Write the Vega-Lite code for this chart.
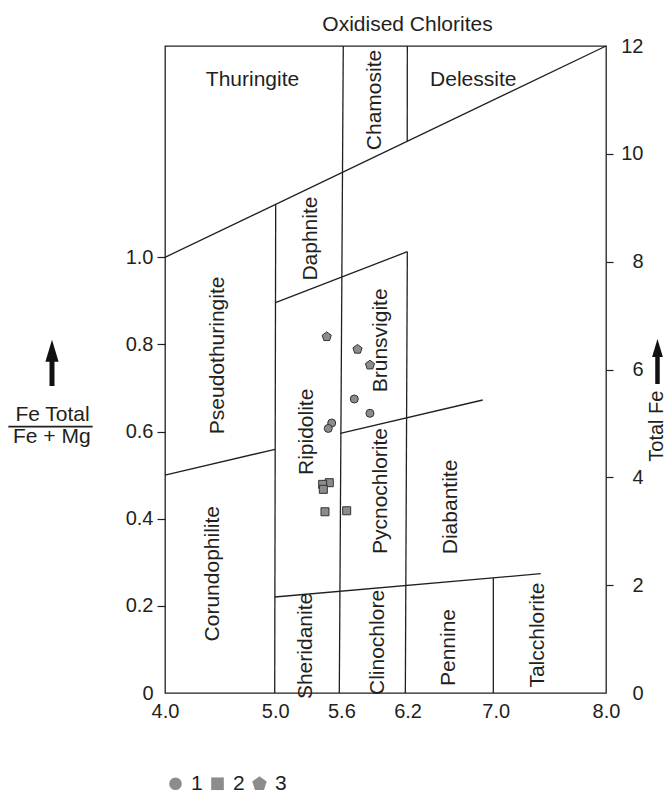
{
  "$schema": "https://vega.github.io/schema/vega-lite/v6.json",
  "width": 441,
  "height": 647,
  "autosize": {"type": "none"},
  "padding": {"left": 165, "top": 46, "right": 61, "bottom": 102},
  "title": {"text": "Oxidised Chlorites", "frame": "group", "anchor": "middle", "dx": 22, "fontSize": 21, "fontWeight": "normal", "color": "#231f20", "baseline": "alphabetic", "offset": -16},
  "config": {
    "font": "Liberation Sans",
    "view": {"stroke": "#231f20", "strokeWidth": 1.3},
    "legend": {"labelFontSize": 21, "labelColor": "#231f20", "symbolSize": 160, "symbolFillColor": "#8c8c8c", "symbolStrokeColor": "#333333", "symbolStrokeWidth": 1.2, "labelOffset": 5, "columnPadding": 4, "padding": 0}
  },
  "datasets": {
    "segments": [
      {"x": 4.0, "y": 1.0, "x2": 8.0, "y2": 1.485},
      {"x": 5.004, "y": 1.1217, "x2": 4.995, "y2": 0},
      {"x": 5.617, "y": 1.485, "x2": 5.581, "y2": 0},
      {"x": 6.198, "y": 1.485, "x2": 6.197, "y2": 1.2665},
      {"x": 6.198, "y": 1.0129, "x2": 6.18, "y2": 0},
      {"x": 5.002, "y": 0.8958, "x2": 6.198, "y2": 1.0129},
      {"x": 4.0, "y": 0.5003, "x2": 4.999, "y2": 0.5593},
      {"x": 5.59, "y": 0.596, "x2": 6.882, "y2": 0.6725},
      {"x": 4.996, "y": 0.2203, "x2": 7.408, "y2": 0.2738},
      {"x": 6.978, "y": 0.2643, "x2": 6.978, "y2": 0}
    ],
    "labels_h": [
      {"name": "Thuringite", "x": 4.794, "y": 1.3932},
      {"name": "Delessite", "x": 6.796, "y": 1.3932}
    ],
    "labels_v": [
      {"name": "Chamosite", "x": 5.909, "y": 1.361},
      {"name": "Daphnite", "x": 5.324, "y": 1.043},
      {"name": "Pseudothuringite", "x": 4.483, "y": 0.775},
      {"name": "Ripidolite", "x": 5.285, "y": 0.5995},
      {"name": "Brunsvigite", "x": 5.957, "y": 0.8095},
      {"name": "Pycnochlorite", "x": 5.957, "y": 0.4636},
      {"name": "Diabantite", "x": 6.597, "y": 0.427},
      {"name": "Corundophilite", "x": 4.434, "y": 0.2738},
      {"name": "Sheridanite", "x": 5.282, "y": 0.108},
      {"name": "Clinochlore", "x": 5.93, "y": 0.116},
      {"name": "Pennine", "x": 6.573, "y": 0.1044},
      {"name": "Talcchlorite", "x": 7.379, "y": 0.133}
    ],
    "points": [
      {"type": "1", "si": 5.512, "ratio": 0.6197},
      {"type": "1", "si": 5.481, "ratio": 0.6072},
      {"type": "1", "si": 5.717, "ratio": 0.6748},
      {"type": "1", "si": 5.859, "ratio": 0.642},
      {"type": "2", "si": 5.49, "ratio": 0.4827},
      {"type": "2", "si": 5.43, "ratio": 0.4789},
      {"type": "2", "si": 5.436, "ratio": 0.4674},
      {"type": "2", "si": 5.451, "ratio": 0.416},
      {"type": "2", "si": 5.648, "ratio": 0.4183},
      {"type": "3", "si": 5.467, "ratio": 0.8178},
      {"type": "3", "si": 5.746, "ratio": 0.7889},
      {"type": "3", "si": 5.859, "ratio": 0.7527}
    ],
    "left_title": [
      {"text": "Fe Total", "x": 2.98, "y": 0.625},
      {"text": "Fe + Mg", "x": 2.973, "y": 0.5731}
    ],
    "left_bar": [{"x": 2.579, "x2": 3.344, "y": 0.6112}],
    "left_shaft": [{"x": 2.975, "y": 0.7046, "y2": 0.765}],
    "left_head": [{"x": 2.975, "y": 0.7853}],
    "right_shaft": [{"x": 8.467, "tf": 5.731, "tf2": 6.269}],
    "right_head": [{"x": 8.467, "tf": 6.399}],
    "right_title": [{"text": "Total Fe", "x": 8.466, "tf": 4.95}]
  },
  "layer": [
    {
      "layer": [
        {
          "data": {"name": "segments"},
          "mark": {"type": "rule", "color": "#231f20", "strokeWidth": 1.3},
          "encoding": {
            "x": {"field": "x", "type": "quantitative", "scale": {"domain": [4, 8], "nice": false, "zero": false},
              "axis": {"values": [4, 5, 5.6, 6.2, 7, 8], "format": ".1f", "title": null, "ticks": false, "domain": false, "grid": false, "labelFontSize": 20, "labelColor": "#231f20", "labelPadding": 8, "labelDx": 5, "labelFlush": false, "labelOverlap": false}},
            "y": {"field": "y", "type": "quantitative", "scale": {"domain": [0, 1.485], "nice": false, "zero": false},
              "axis": {"values": [0, 0.2, 0.4, 0.6, 0.8, 1.0], "labelExpr": "datum.value == 0 ? '0' : format(datum.value, '.1f')", "title": null, "domain": false, "grid": false, "tickSize": 8, "tickColor": "#231f20", "tickWidth": 1.2, "tickOpacity": {"condition": {"test": "datum.value == 0", "value": 0}, "value": 1}, "labelFontSize": 20, "labelColor": "#231f20", "labelPadding": 4, "labelFlush": false, "labelOverlap": false}},
            "x2": {"field": "x2"},
            "y2": {"field": "y2"}
          }
        },
        {
          "data": {"name": "labels_h"},
          "mark": {"type": "text", "fontSize": 21, "color": "#231f20", "align": "center", "baseline": "alphabetic"},
          "encoding": {
            "x": {"field": "x", "type": "quantitative"},
            "y": {"field": "y", "type": "quantitative"},
            "text": {"field": "name"}
          }
        },
        {
          "data": {"name": "labels_v"},
          "mark": {"type": "text", "fontSize": 21, "color": "#231f20", "align": "center", "baseline": "middle", "angle": 270},
          "encoding": {
            "x": {"field": "x", "type": "quantitative"},
            "y": {"field": "y", "type": "quantitative"},
            "text": {"field": "name"}
          }
        },
        {
          "data": {"name": "left_title"},
          "mark": {"type": "text", "fontSize": 21, "color": "#231f20", "align": "center", "baseline": "alphabetic"},
          "encoding": {
            "x": {"field": "x", "type": "quantitative"},
            "y": {"field": "y", "type": "quantitative"},
            "text": {"field": "text"}
          }
        },
        {
          "data": {"name": "left_bar"},
          "mark": {"type": "rule", "color": "#231f20", "strokeWidth": 1.8},
          "encoding": {
            "x": {"field": "x", "type": "quantitative"},
            "x2": {"field": "x2"},
            "y": {"field": "y", "type": "quantitative"}
          }
        },
        {
          "data": {"name": "left_shaft"},
          "mark": {"type": "rule", "color": "#111111", "strokeWidth": 5},
          "encoding": {
            "x": {"field": "x", "type": "quantitative"},
            "y": {"field": "y", "type": "quantitative"},
            "y2": {"field": "y2"}
          }
        },
        {
          "data": {"name": "left_head"},
          "mark": {"type": "point", "shape": "M0,-1L0.6,1L-0.6,1Z", "filled": true, "color": "#111111", "opacity": 1, "size": 484},
          "encoding": {
            "x": {"field": "x", "type": "quantitative"},
            "y": {"field": "y", "type": "quantitative"}
          }
        },
        {
          "data": {"name": "points"},
          "transform": [{"filter": "datum.type == 'none'"}],
          "mark": {"type": "point", "filled": true, "fill": "#8c8c8c", "stroke": "#333333", "strokeWidth": 1.2, "opacity": 1, "size": 160},
          "encoding": {
            "x": {"field": "si", "type": "quantitative"},
            "y": {"field": "ratio", "type": "quantitative"},
            "shape": {"field": "type", "type": "nominal",
              "scale": {"domain": ["1", "2", "3"], "range": ["circle", "square", "M0,-1.2L1.14,-0.37L0.71,0.97L-0.71,0.97L-1.14,-0.37Z"]},
              "legend": {"orient": "none", "legendX": 0, "legendY": 727, "direction": "horizontal", "title": null}}
          }
        },
        {
          "data": {"name": "points"},
          "mark": {"type": "point", "filled": true, "fill": "#8c8c8c", "stroke": "#333333", "strokeWidth": 1, "opacity": 1, "size": 64},
          "encoding": {
            "x": {"field": "si", "type": "quantitative"},
            "y": {"field": "ratio", "type": "quantitative"},
            "shape": {"field": "type", "type": "nominal", "legend": null}
          }
        }
      ]
    },
    {
      "layer": [
        {
          "data": {"name": "right_shaft"},
          "mark": {"type": "rule", "color": "#111111", "strokeWidth": 4.5},
          "encoding": {
            "x": {"field": "x", "type": "quantitative"},
            "y": {"field": "tf", "type": "quantitative", "scale": {"domain": [0, 12], "nice": false, "zero": false},
              "axis": {"orient": "right", "values": [0, 2, 4, 6, 8, 10, 12], "format": "d", "title": null, "domain": false, "grid": false, "tickSize": 7, "tickColor": "#231f20", "tickWidth": 1.2, "tickOpacity": {"condition": {"test": "datum.value == 0 || datum.value == 12", "value": 0}, "value": 1}, "labelAlign": "right", "labelPadding": 30, "labelFontSize": 20, "labelColor": "#231f20", "labelFlush": false, "labelOverlap": false}},
            "y2": {"field": "tf2"}
          }
        },
        {
          "data": {"name": "right_head"},
          "mark": {"type": "point", "shape": "M0,-1L0.6,1L-0.6,1Z", "filled": true, "color": "#111111", "opacity": 1, "size": 324},
          "encoding": {
            "x": {"field": "x", "type": "quantitative"},
            "y": {"field": "tf", "type": "quantitative"}
          }
        },
        {
          "data": {"name": "right_title"},
          "mark": {"type": "text", "fontSize": 20, "color": "#231f20", "align": "center", "baseline": "middle", "angle": 270},
          "encoding": {
            "x": {"field": "x", "type": "quantitative"},
            "y": {"field": "tf", "type": "quantitative"},
            "text": {"field": "text"}
          }
        }
      ]
    }
  ],
  "resolve": {"scale": {"y": "independent"}}
}
